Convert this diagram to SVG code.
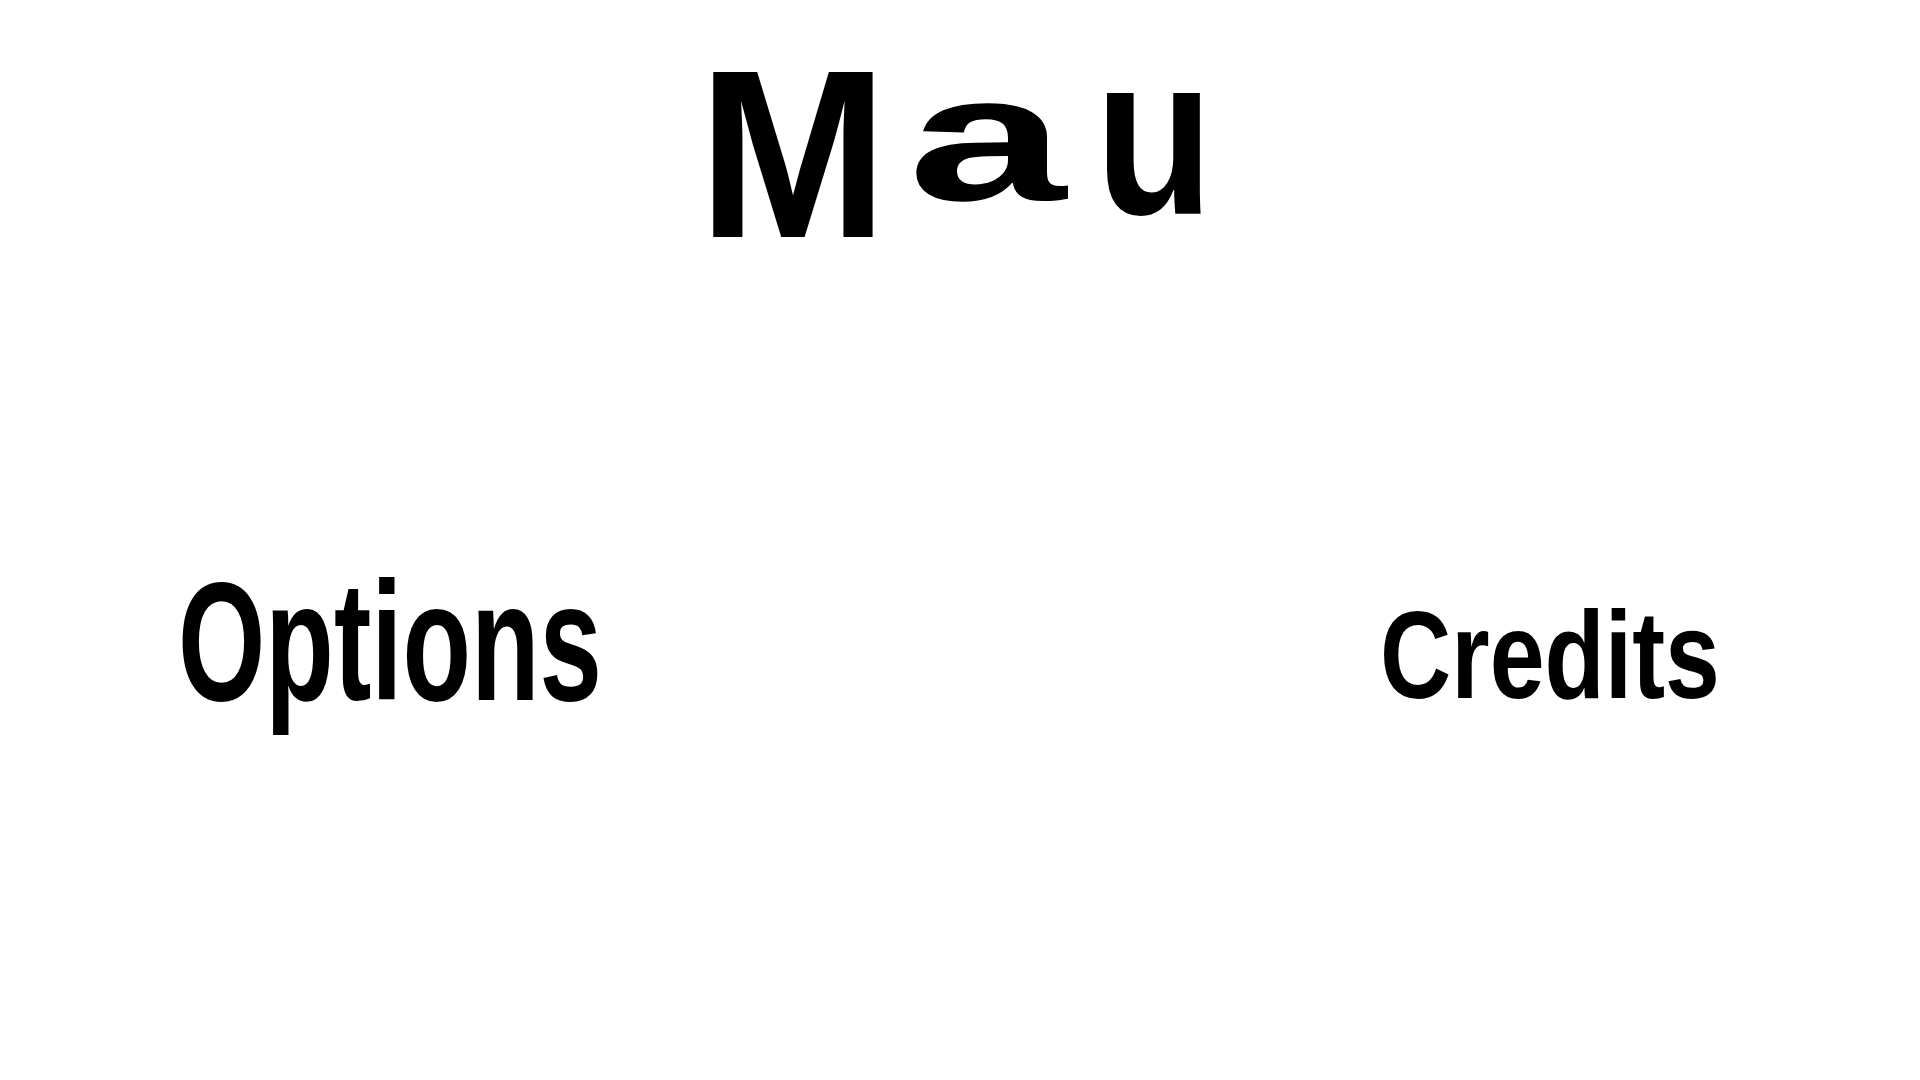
<svg xmlns="http://www.w3.org/2000/svg" width="1920" height="1080" viewBox="0 0 1920 1080">
<style>
.t{font-family:"Liberation Sans",Arial,sans-serif;font-weight:bold;fill:#000;}
</style>
<rect width="1920" height="1080" fill="#fff"/>
<g id="title">
<text class="t" transform="translate(698,237) scale(0.95,1)" x="0" y="0" font-size="240">M</text>
<text class="t" transform="translate(908,200) scale(1.58,1)" x="0" y="0" font-size="180">a</text>
<text class="t" transform="translate(1095,214) scale(0.85,1)" x="0" y="0" font-size="228">u</text>
</g>
<g id="options">
<text class="t" x="178" y="700" font-size="168" textLength="424" lengthAdjust="spacingAndGlyphs">Options</text>
</g>
<g id="credits">
<text class="t" x="1380" y="698" font-size="125" textLength="340" lengthAdjust="spacingAndGlyphs">Credits</text>
</g>
</svg>
